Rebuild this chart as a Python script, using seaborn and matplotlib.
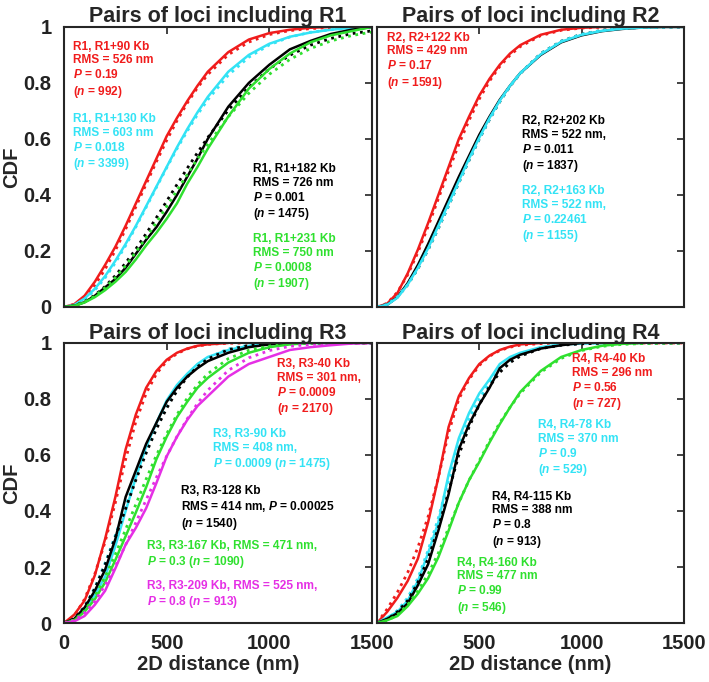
import numpy as np
import matplotlib
matplotlib.use("Agg")
import matplotlib.pyplot as plt
import seaborn as sns

nan = np.nan

# --- distance grid (nm) shared by all curves ---
dist_nm = [0, 50, 100, 150, 200, 250, 300, 350, 400, 450, 500, 550, 600, 650, 700,
           800, 900, 1000, 1100, 1200, 1300, 1400, 1500]

# --- R1 pairs: measured CDF (solid) and fitted CDF (dotted) ---
r1_90_obs = [0, 0.01, 0.04, 0.09, 0.15, 0.215, 0.29, 0.37, 0.45, 0.53, 0.61, 0.675, 0.735, 0.79, 0.84,
             0.91, 0.955, 0.978, 0.99, 0.997, 1.0, nan, nan]
r1_90_fit = [0, 0.009, 0.035, 0.078, 0.135, 0.202, 0.278, 0.358, 0.439, 0.519, 0.595, 0.665, 0.728, 0.783, 0.830,
             0.901, 0.946, 0.973, 0.987, 0.994, 0.998, 0.999, 1.0]
r1_130_obs = [0, 0.007, 0.03, 0.065, 0.11, 0.165, 0.225, 0.29, 0.36, 0.43, 0.50, 0.57, 0.635, 0.695, 0.75,
              0.84, 0.90, 0.94, 0.965, 0.98, 0.99, 0.997, 1.0]
r1_130_fit = [0, 0.007, 0.027, 0.060, 0.104, 0.158, 0.219, 0.286, 0.356, 0.427, 0.497, 0.565, 0.628, 0.687, 0.740,
              0.828, 0.892, 0.936, 0.964, 0.981, 0.990, 0.996, 0.998]
r1_182_obs = [0, 0.004, 0.017, 0.04, 0.07, 0.10, 0.14, 0.19, 0.24, 0.285, 0.34, 0.40, 0.465, 0.53, 0.60,
              0.715, 0.80, 0.865, 0.92, 0.95, 0.975, 0.99, 1.0]
r1_182_fit = [0, 0.005, 0.019, 0.042, 0.073, 0.112, 0.157, 0.207, 0.262, 0.319, 0.378, 0.437, 0.495, 0.551, 0.605,
              0.703, 0.785, 0.850, 0.899, 0.935, 0.959, 0.976, 0.986]
r1_231_obs = [0, 0.004, 0.016, 0.035, 0.06, 0.09, 0.125, 0.17, 0.22, 0.265, 0.315, 0.37, 0.44, 0.50, 0.565,
              0.68, 0.78, 0.85, 0.905, 0.945, 0.97, 0.985, 1.0]
r1_231_fit = [0, 0.004, 0.018, 0.039, 0.069, 0.105, 0.148, 0.196, 0.248, 0.302, 0.359, 0.416, 0.473, 0.528, 0.581,
              0.679, 0.763, 0.831, 0.884, 0.923, 0.950, 0.969, 0.982]

# --- R2 pairs ---
r2_122_obs = [0, 0.012, 0.05, 0.12, 0.205, 0.30, 0.40, 0.50, 0.60, 0.68, 0.755, 0.815, 0.865, 0.905, 0.935,
              0.972, 0.99, 0.997, 1.0, 1.0, nan, nan, nan]
r2_122_fit = [0, 0.013, 0.053, 0.115, 0.195, 0.288, 0.387, 0.486, 0.581, 0.667, 0.743, 0.807, 0.859, 0.899, 0.930,
              0.969, 0.988, 0.996, 0.999, 1.0, 1.0, 1.0, 1.0]
r2_202_obs = [0, 0.008, 0.035, 0.085, 0.15, 0.225, 0.305, 0.385, 0.465, 0.54, 0.615, 0.68, 0.74, 0.79, 0.835,
              0.90, 0.945, 0.97, 0.985, 0.993, 0.998, 1.0, 1.0]
r2_202_fit = [0, 0.009, 0.036, 0.079, 0.137, 0.205, 0.281, 0.362, 0.444, 0.524, 0.600, 0.670, 0.733, 0.788, 0.834,
              0.905, 0.949, 0.974, 0.988, 0.995, 0.998, 0.999, 1.0]
r2_163_obs = [0, 0.008, 0.033, 0.08, 0.14, 0.21, 0.29, 0.37, 0.45, 0.53, 0.605, 0.675, 0.737, 0.79, 0.835,
              0.902, 0.947, 0.972, 0.986, 0.994, 0.998, 1.0, 1.0]
r2_163_fit = [0, 0.009, 0.036, 0.079, 0.137, 0.205, 0.281, 0.362, 0.444, 0.524, 0.600, 0.670, 0.733, 0.788, 0.834,
              0.905, 0.949, 0.974, 0.988, 0.995, 0.998, 0.999, 1.0]

# --- R3 pairs ---
r3_40_obs = [0, 0.03, 0.08, 0.17, 0.30, 0.45, 0.62, 0.745, 0.84, 0.90, 0.94, 0.965, 0.98, 0.99, 0.995,
             1.0, nan, nan, nan, nan, nan, nan, nan]
r3_40_fit = [0, 0.025, 0.085, 0.175, 0.29, 0.43, 0.585, 0.72, 0.82, 0.89, 0.935, 0.962, 0.979, 0.989, 0.995,
             0.999, 1.0, 1.0, 1.0, 1.0, 1.0, 1.0, 1.0]
r3_90_obs = [0, 0.012, 0.05, 0.10, 0.165, 0.275, 0.40, 0.52, 0.63, 0.715, 0.795, 0.85, 0.89, 0.925, 0.95,
             0.975, 0.99, 0.996, 1.0, nan, nan, nan, nan]
r3_90_fit = [0, 0.015, 0.058, 0.126, 0.214, 0.313, 0.418, 0.521, 0.618, 0.704, 0.777, 0.838, 0.885, 0.921, 0.947,
             0.979, 0.992, 0.998, 0.999, 1.0, 1.0, 1.0, 1.0]
r3_128_obs = [0, 0.015, 0.055, 0.115, 0.19, 0.30, 0.45, 0.545, 0.64, 0.715, 0.79, 0.84, 0.88, 0.91, 0.935,
              0.965, 0.985, 0.995, 1.0, nan, nan, nan, nan]
r3_128_fit = [0, 0.015, 0.057, 0.123, 0.208, 0.306, 0.408, 0.511, 0.607, 0.693, 0.767, 0.829, 0.878, 0.915, 0.943,
              0.976, 0.991, 0.997, 0.999, 1.0, 1.0, 1.0, 1.0]
r3_167_obs = [0, 0.01, 0.04, 0.085, 0.145, 0.225, 0.31, 0.395, 0.485, 0.585, 0.665, 0.735, 0.79, 0.84, 0.875,
              0.93, 0.965, 0.985, 0.995, 1.0, 1.0, nan, nan]
r3_167_fit = [0, 0.011, 0.044, 0.096, 0.165, 0.245, 0.334, 0.424, 0.514, 0.599, 0.676, 0.744, 0.803, 0.851, 0.890,
              0.944, 0.974, 0.989, 0.996, 0.998, 0.9995, 1.0, 1.0]
r3_209_obs = [0, 0.006, 0.025, 0.065, 0.115, 0.195, 0.28, 0.34, 0.41, 0.50, 0.595, 0.665, 0.725, 0.775, 0.81,
              0.88, 0.925, 0.95, 0.975, 0.985, 0.992, 0.998, 1.0]
r3_209_fit = [0, 0.009, 0.036, 0.078, 0.135, 0.203, 0.279, 0.359, 0.440, 0.520, 0.596, 0.666, 0.729, 0.784, 0.831,
              0.902, 0.947, 0.973, 0.988, 0.995, 0.998, 0.999, 1.0]

# --- R4 pairs ---
r4_40_obs = [0, 0.04, 0.09, 0.15, 0.23, 0.36, 0.52, 0.70, 0.81, 0.875, 0.925, 0.955, 0.975, 0.987, 0.995,
             1.0, nan, nan, nan, nan, nan, nan, nan]
r4_40_fit = [0, 0.05, 0.11, 0.18, 0.27, 0.38, 0.52, 0.68, 0.80, 0.87, 0.92, 0.953, 0.973, 0.985, 0.992,
             0.998, 1.0, 1.0, 1.0, 1.0, 1.0, 1.0, 1.0]
r4_78_obs = [0, 0.02, 0.04, 0.08, 0.15, 0.25, 0.36, 0.53, 0.66, 0.75, 0.82, 0.87, 0.925, 0.95, 0.965,
             0.985, 0.995, 0.998, 0.999, 1.0, 1.0, nan, nan]
r4_78_fit = [0, 0.015, 0.045, 0.09, 0.16, 0.26, 0.375, 0.51, 0.63, 0.73, 0.80, 0.86, 0.905, 0.935, 0.957,
             0.982, 0.993, 0.998, 0.999, 1.0, 1.0, 1.0, 1.0]
r4_115_obs = [0, 0.015, 0.035, 0.07, 0.135, 0.21, 0.33, 0.46, 0.62, 0.71, 0.78, 0.84, 0.91, 0.94, 0.958,
              0.98, 0.992, 1.0, nan, nan, nan, nan, nan]
r4_115_fit = [0, 0.012, 0.04, 0.08, 0.145, 0.23, 0.34, 0.47, 0.60, 0.70, 0.78, 0.845, 0.895, 0.93, 0.953,
              0.98, 0.992, 0.997, 0.999, 1.0, 1.0, 1.0, 1.0]
r4_160_obs = [0, 0.01, 0.025, 0.06, 0.105, 0.16, 0.235, 0.33, 0.43, 0.51, 0.575, 0.645, 0.71, 0.77, 0.825,
              0.90, 0.95, 0.975, 0.99, 0.997, 1.0, nan, nan]
r4_160_fit = [0, 0.008, 0.03, 0.065, 0.115, 0.175, 0.25, 0.34, 0.43, 0.51, 0.58, 0.65, 0.715, 0.77, 0.82,
              0.895, 0.945, 0.973, 0.988, 0.995, 0.998, 0.999, 1.0]

# --- legend-like notes ---
notes_r1 = ["R1, R1+90 Kb\nRMS = 526 nm\n$P$ = 0.19\n($n$ = 992)",
            "R1, R1+130 Kb\nRMS = 603 nm\n$P$ = 0.018\n($n$ = 3399)",
            "R1, R1+182 Kb\nRMS = 726 nm\n$P$ = 0.001\n($n$ = 1475)",
            "R1, R1+231 Kb\nRMS = 750 nm\n$P$ = 0.0008\n($n$ = 1907)"]
notes_r2 = ["R2, R2+122 Kb\nRMS = 429 nm\n$P$ = 0.17\n($n$ = 1591)",
            "R2, R2+202 Kb\nRMS = 522 nm,\n$P$ = 0.011\n($n$ = 1837)",
            "R2, R2+163 Kb\nRMS = 522 nm,\n$P$ = 0.22461\n($n$ = 1155)"]
notes_r3 = ["R3, R3-40 Kb\nRMS = 301 nm,\n$P$ = 0.0009\n($n$ = 2170)",
            "R3, R3-90 Kb\nRMS = 408 nm,\n$P$ = 0.0009 ($n$ = 1475)",
            "R3, R3-128 Kb\nRMS = 414 nm, $P$ = 0.00025\n($n$ = 1540)",
            "R3, R3-167 Kb, RMS = 471 nm,\n$P$ = 0.3 ($n$ = 1090)",
            "R3, R3-209 Kb, RMS = 525 nm,\n$P$ = 0.8 ($n$ = 913)"]
notes_r4 = ["R4, R4-40 Kb\nRMS = 296 nm\n$P$ = 0.56\n($n$ = 727)",
            "R4, R4-78 Kb\nRMS = 370 nm\n$P$ = 0.9\n($n$ = 529)",
            "R4, R4-115 Kb\nRMS = 388 nm\n$P$ = 0.8\n($n$ = 913)",
            "R4, R4-160 Kb\nRMS = 477 nm\n$P$ = 0.99\n($n$ = 546)"]

RED = "#f01c1c"
CYAN = "#33e3f5"
BLACK = "#000000"
GREEN = "#2fe02f"
MAGENTA = "#e52fe5"

sns.set_theme(style="white")
plt.rcParams["font.family"] = ["Liberation Sans", "DejaVu Sans"]
plt.rcParams["font.weight"] = "bold"
plt.rcParams["axes.titleweight"] = "bold"
plt.rcParams["axes.labelweight"] = "bold"
plt.rcParams["mathtext.fontset"] = "custom"
plt.rcParams["mathtext.it"] = "Liberation Sans:italic:bold"
plt.rcParams["mathtext.rm"] = "Liberation Sans:bold"


def draw_panel(ax, curves, notes, note_pos, title):
    # dotted fits first, measured CDF on top
    for obs, fit, color in curves:
        sns.lineplot(x=dist_nm, y=fit, color=color, linestyle=":", linewidth=2.0, ax=ax)
        sns.lineplot(x=dist_nm, y=obs, color=color, linewidth=1.8, ax=ax)
    for (text, (x, y)), (_, _, color) in zip(zip(notes, note_pos), curves):
        ax.text(x, y, text, color=color, fontsize=8.6, fontweight="bold",
                ha="left", va="top", linespacing=1.2)
    ax.set_xlim(0, 1500)
    ax.set_ylim(0, 1)
    ax.set_xticks([0, 500, 1000, 1500])
    ax.set_yticks([0, 0.2, 0.4, 0.6, 0.8, 1])
    ax.set_yticklabels(["0", "0.2", "0.4", "0.6", "0.8", "1"])
    ax.tick_params(direction="in", length=5, width=1.2, top=True, right=True,
                   labelsize=14.5, colors="#222222")
    ax.tick_params(axis="x", pad=8)
    ax.tick_params(axis="y", pad=9)
    for s in ax.spines.values():
        s.set_linewidth(1.5)
        s.set_color("#262626")
    ax.set_title(title, fontsize=15.5, fontweight="bold", pad=3)
    ax.set_xlabel("")
    ax.set_ylabel("")


fig = plt.figure(figsize=(7.09, 6.82), dpi=100)
ax1 = fig.add_axes([0.0903, 0.5499, 0.4344, 0.4106])
ax2 = fig.add_axes([0.5317, 0.5499, 0.4330, 0.4106])
ax3 = fig.add_axes([0.0903, 0.0865, 0.4344, 0.4106])
ax4 = fig.add_axes([0.5317, 0.0865, 0.4330, 0.4106])

draw_panel(ax1,
           [(r1_90_obs, r1_90_fit, RED), (r1_130_obs, r1_130_fit, CYAN),
            (r1_182_obs, r1_182_fit, BLACK), (r1_231_obs, r1_231_fit, GREEN)],
           notes_r1, [(42, 0.951), (42, 0.692), (919, 0.515), (919, 0.263)],
           "Pairs of loci including R1")
draw_panel(ax2,
           [(r2_122_obs, r2_122_fit, RED), (r2_202_obs, r2_202_fit, BLACK),
            (r2_163_obs, r2_163_fit, CYAN)],
           notes_r2, [(50, 0.983), (710, 0.686), (710, 0.436)],
           "Pairs of loci including R2")
draw_panel(ax3,
           [(r3_40_obs, r3_40_fit, RED), (r3_90_obs, r3_90_fit, CYAN),
            (r3_128_obs, r3_128_fit, BLACK), (r3_167_obs, r3_167_fit, GREEN),
            (r3_209_obs, r3_209_fit, MAGENTA)],
           notes_r3, [(1039, 0.945), (724, 0.695), (568, 0.493), (402, 0.296), (402, 0.154)],
           "Pairs of loci including R3")
draw_panel(ax4,
           [(r4_40_obs, r4_40_fit, RED), (r4_78_obs, r4_78_fit, CYAN),
            (r4_115_obs, r4_115_fit, BLACK), (r4_160_obs, r4_160_fit, GREEN)],
           notes_r4, [(954, 0.965), (785, 0.727), (560, 0.473), (392, 0.237)],
           "Pairs of loci including R4")

# shared-axis style labelling
ax1.set_xticklabels([])
ax2.set_xticklabels([])
ax2.set_yticklabels([])
ax4.set_yticklabels([])
ax4.set_xticklabels(["", "500", "1000", "1500"])
ax3.set_xticklabels(["0", "500", "1000", "1500"])

for ax in (ax1, ax3):
    ax.set_ylabel("CDF", fontsize=14.5, fontweight="bold", labelpad=2)
for ax in (ax3, ax4):
    ax.set_xlabel("2D distance (nm)", fontsize=14.5, fontweight="bold", labelpad=1)

fig.savefig("out.png", dpi=100)
plt.close(fig)
